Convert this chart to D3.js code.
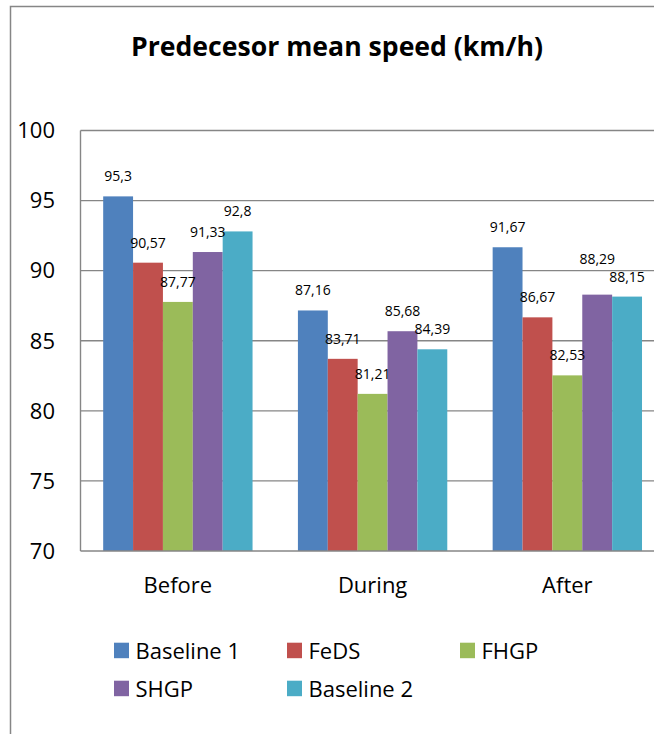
<!DOCTYPE html>
<html>
<head>
<meta charset="utf-8">
<script src="https://cdn.jsdelivr.net/npm/d3@7"></script>
<style>
  html, body { margin: 0; padding: 0; background: #fff; }
  svg { display: block; font-family: "Open Sans", Lato, sans-serif; }
</style>
</head>
<body>
<svg id="chart" width="654" height="734"></svg>
<script>
// Predecessor mean speed per phase and controller
const categories = ["Before", "During", "After"];
const series = ["Baseline 1", "FeDS", "FHGP", "SHGP", "Baseline 2"];
const baseline1 = [95.3, 87.16, 91.67];
const feds = [90.57, 83.71, 86.67];
const fhgp = [87.77, 81.21, 82.53];
const shgp = [91.33, 85.68, 88.29];
const baseline2 = [92.8, 84.39, 88.15];
const yTicks = [70, 75, 80, 85, 90, 95, 100];
const colors = ["#4F81BD", "#C0504D", "#9BBB59", "#8064A2", "#4BACC6"];

const values = [baseline1, feds, fhgp, shgp, baseline2];
const rows = [];
categories.forEach((c, ci) => {
  series.forEach((s, si) => rows.push({ cat: c, series: s, si, value: values[si][ci] }));
});

const svg = d3.select("#chart");
const gridColor = "#868686";

// chart frame
svg.append("rect")
  .attr("x", 10.5).attr("y", 6.5)
  .attr("width", 700).attr("height", 760)
  .attr("fill", "none").attr("stroke", gridColor).attr("stroke-width", 1.5);

// title
svg.append("text")
  .attr("x", 337).attr("y", 56)
  .attr("text-anchor", "middle")
  .attr("font-weight", "bold").attr("font-size", 26)
  .attr("textLength", 412).attr("lengthAdjust", "spacingAndGlyphs")
  .attr("fill", "#000")
  .text("Predecesor mean speed (km/h)");

const plot = { left: 80.5, right: 664.7, top: 130.5, bottom: 551 };

const y = d3.scaleLinear().domain([70, 100]).range([plot.bottom, plot.top]);
const x0 = d3.scaleBand().domain(categories)
  .range([plot.left, plot.right]).paddingInner(0.233).paddingOuter(0.1165);
const x1 = d3.scaleBand().domain(series).range([0, x0.bandwidth()]).padding(0);

// gridlines
svg.append("g").selectAll("line")
  .data(yTicks.filter(t => t > 70))
  .join("line")
  .attr("x1", plot.left).attr("x2", plot.right)
  .attr("y1", d => y(d)).attr("y2", d => y(d))
  .attr("stroke", gridColor).attr("stroke-width", 1.4);

// plot area border (left side)
svg.append("line")
  .attr("x1", plot.left).attr("x2", plot.left)
  .attr("y1", plot.top).attr("y2", plot.bottom)
  .attr("stroke", gridColor).attr("stroke-width", 1.4);

// y tick labels
svg.append("g").selectAll("text")
  .data(yTicks)
  .join("text")
  .attr("x", 55).attr("y", d => y(d) + 7.8)
  .attr("text-anchor", "end")
  .attr("font-size", 22).attr("fill", "#000")
  .text(d => d);

// bars
svg.append("g").selectAll("rect")
  .data(rows)
  .join("rect")
  .attr("x", d => x0(d.cat) + x1(d.series))
  .attr("y", d => y(d.value))
  .attr("width", x1.bandwidth())
  .attr("height", d => y(70) - y(d.value))
  .attr("fill", d => colors[d.si]);

// category axis line
svg.append("line")
  .attr("x1", plot.left).attr("x2", plot.right)
  .attr("y1", plot.bottom).attr("y2", plot.bottom)
  .attr("stroke", gridColor).attr("stroke-width", 1.5);

// category labels
svg.append("g").selectAll("text")
  .data(categories)
  .join("text")
  .attr("x", d => x0(d) + x0.bandwidth() / 2)
  .attr("y", 593)
  .attr("text-anchor", "middle")
  .attr("font-size", 22).attr("fill", "#000")
  .text(d => d);

// value labels (one lifted clear of its neighbour)
const fmt = v => String(v).replace(".", ",");
const lift = d => (d.cat === "After" && d.series === "SHGP") ? 31 : 15;
svg.append("g").selectAll("text")
  .data(rows)
  .join("text")
  .attr("x", d => x0(d.cat) + x1(d.series) + x1.bandwidth() / 2)
  .attr("y", d => y(d.value) - lift(d))
  .attr("text-anchor", "middle")
  .attr("font-size", 14).attr("fill", "#000")
  .text(d => fmt(d.value));

// legend
const legendCols = [114, 287, 460];
const legendRows = [659, 697];
const legend = svg.append("g").selectAll("g")
  .data(series)
  .join("g")
  .attr("transform", (d, i) => `translate(${legendCols[i % 3]},${legendRows[Math.floor(i / 3)]})`);
legend.append("rect")
  .attr("x", 0).attr("y", -16.3)
  .attr("width", 15).attr("height", 15.5)
  .attr("fill", (d, i) => colors[i]);
legend.append("text")
  .attr("x", 21.5).attr("y", 0)
  .attr("font-size", 22).attr("fill", "#000")
  .text(d => d);
</script>
</body>
</html>
